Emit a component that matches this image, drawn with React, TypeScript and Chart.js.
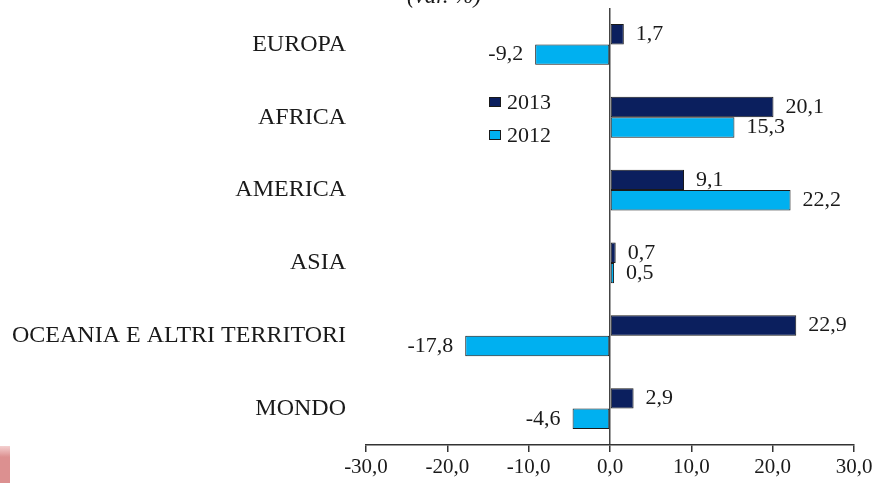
import React, { useEffect, useRef } from "react";
import { Chart, registerables } from "chart.js";

Chart.register(...registerables);

const categories = ["EUROPA", "AFRICA", "AMERICA", "ASIA", "OCEANIA E ALTRI TERRITORI", "MONDO"];
const values2013 = [1.7, 20.1, 9.1, 0.7, 22.9, 2.9];
const values2012 = [-9.2, 15.3, 22.2, 0.5, -17.8, -4.6];
const seriesNames = ["2013", "2012"];
const xTicks = [-30, -20, -10, 0, 10, 20, 30];
const titleText = "(var. %)";

const COLOR_2013 = "#0b1f5e";
const COLOR_2012 = "#00b0f0";
const SERIF = "'Liberation Serif', 'Times New Roman', serif";
const fmt = (v: number) => v.toFixed(1).replace(".", ",");

const extrasPlugin = {
  id: "extras",
  afterDatasetsDraw(chart: any) {
    const ctx = chart.ctx;
    ctx.save();
    // data labels
    ctx.font = `22px ${SERIF}`;
    ctx.fillStyle = "#1a1a1a";
    ctx.textBaseline = "middle";
    chart.data.datasets.forEach((ds: any, di: number) => {
      const meta = chart.getDatasetMeta(di);
      meta.data.forEach((bar: any, i: number) => {
        const v = ds.data[i];
        if (v >= 0) {
          ctx.textAlign = "left";
          ctx.fillText(fmt(v), bar.x + 12, bar.y);
        } else {
          ctx.textAlign = "right";
          ctx.fillText(fmt(v), bar.x - 12, bar.y);
        }
      });
    });
    // legend
    const lx = 489;
    const ly = [97, 130];
    const cols = [COLOR_2013, COLOR_2012];
    ctx.font = `22px ${SERIF}`;
    ctx.textAlign = "left";
    seriesNames.forEach((name, i) => {
      ctx.fillStyle = cols[i];
      ctx.fillRect(lx, ly[i], 12, 10);
      ctx.strokeStyle = "#1a1a1a";
      ctx.lineWidth = 1;
      ctx.strokeRect(lx + 0.5, ly[i] + 0.5, 11, 9);
      ctx.fillStyle = "#1a1a1a";
      ctx.fillText(name, lx + 18, ly[i] + 6);
    });
    // title (partially cut at top)
    ctx.font = `italic 23px ${SERIF}`;
    ctx.textAlign = "center";
    ctx.textBaseline = "alphabetic";
    ctx.fillText(titleText, 444, 3);
    ctx.restore();
  },
};

export default function App() {
  const ref = useRef<HTMLCanvasElement>(null);
  useEffect(() => {
    if (!ref.current) return;
    const chart = new Chart(ref.current, {
      type: "bar",
      data: {
        labels: categories,
        datasets: [
          {
            label: seriesNames[0],
            data: values2013,
            backgroundColor: COLOR_2013,
            borderColor: "#1a1a1a",
            borderWidth: 1,
            borderSkipped: false,
          },
          {
            label: seriesNames[1],
            data: values2012,
            backgroundColor: COLOR_2012,
            borderColor: "#1a1a1a",
            borderWidth: 1,
            borderSkipped: false,
          },
        ],
      },
      options: {
        indexAxis: "y",
        animation: false,
        responsive: false,
        maintainAspectRatio: false,
        layout: { padding: { top: 8, right: 28, left: 0, bottom: 0 } },
        datasets: {
          bar: { categoryPercentage: 0.56, barPercentage: 1 },
        },
        plugins: {
          legend: { display: false },
          tooltip: { enabled: false },
          title: { display: false },
        },
        scales: {
          x: {
            min: -30,
            max: 30,
            afterBuildTicks: (scale: any) => {
              scale.ticks = xTicks.map((v) => ({ value: v }));
            },
            afterFit: (scale: any) => {
              scale.height = 38;
              scale.paddingLeft = 0;
              scale.paddingRight = 0;
            },
            ticks: {
              color: "#1a1a1a",
              font: { family: SERIF, size: 21 },
              padding: 3,
              maxRotation: 0,
              callback: (v: any) => fmt(Number(v)),
            },
            grid: {
              color: (c: any) => (c.tick && c.tick.value === 0 ? "#444" : "rgba(0,0,0,0)"),
              tickColor: "#333",
              tickLength: 7,
              lineWidth: 1.5,
            },
            border: { display: true, color: "#333", width: 1.5 },
          },
          y: {
            afterFit: (scale: any) => {
              scale.width = 366;
              scale.paddingTop = 0;
              scale.paddingBottom = 0;
            },
            ticks: {
              color: "#1a1a1a",
              font: { family: SERIF, size: 24 },
              padding: 12,
            },
            grid: { display: false },
            border: { display: false },
          },
        },
      },
      plugins: [extrasPlugin],
    });
    return () => chart.destroy();
  }, []);
  return (
    <div style={{ position: "absolute", left: 0, top: 0, width: 882, height: 483, background: "#fff" }}>
      <canvas ref={ref} width={882} height={483} style={{ display: "block" }} />
      <div
        style={{
          position: "absolute",
          left: 0,
          top: 446,
          width: 10,
          height: 37,
          background: "linear-gradient(#f4d0d0, #dc9090 30%, #dc9090)",
        }}
      />
    </div>
  );
}
